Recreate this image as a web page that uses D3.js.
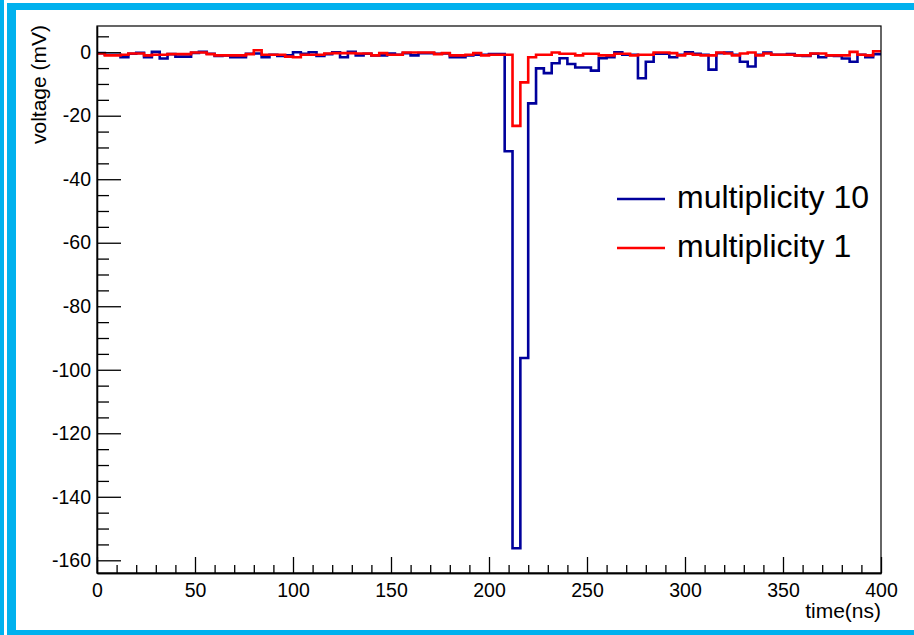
<!DOCTYPE html>
<html>
<head>
<meta charset="utf-8">
<script src="https://cdn.jsdelivr.net/npm/d3@7"></script>
<style>
  html, body { margin: 0; padding: 0; background: #fff; }
  svg { display: block; }
  text { font-family: "Liberation Sans", Arial, Helvetica, sans-serif; fill: #000; }
</style>
</head>
<body>
<script>
// Histogram binning: 100 bins of 4 ns from 0 to 400 ns
const binWidth = 4;
const nBins = 100;

// Bin contents (mV), multiplicity 10
const mult10 = [
  -0.3, -0.8, -0.8, -1.6, -0.5, -0.2, -1.6, 0.1, -2.0, -0.6,
  -1.4, -1.4, -0.2, 0.1, -0.5, -1.2, -1.0, -1.6, -1.6, -0.5,
  -0.4, -1.6, -0.8, -1.2, -1.0, 0.0, -0.5, 0.0, -1.2, -0.6,
  0.0, -1.6, 0.1, -1.0, -0.5, -1.0, -1.0, -0.4, -0.8, -0.3,
  -1.0, -0.3, -0.3, -0.5, -0.4, -1.6, -1.6, -1.0, -0.8, -0.8,
  -0.6, -0.6, -31.2, -156.2, -96.3, -16.1, -5.1, -6.6, -3.5, -1.9,
  -3.7, -4.8, -4.8, -5.8, -1.9, -1.6, 0.0, -0.8, -0.8, -8.2,
  -3.0, -0.5, -0.5, -1.6, -0.8, 0.0, -0.5, -0.8, -5.5, -0.3,
  -0.1, -0.8, -3.0, -4.5, -0.8, -0.1, -0.8, -0.8, -0.6, -1.0,
  -1.2, -0.5, -1.6, -1.0, -1.2, -2.0, -3.0, -0.8, -1.6, -0.6
];

// Bin contents (mV), multiplicity 1
const mult1 = [
  -0.4, -1.0, -1.0, -0.8, -0.4, -0.4, -1.0, -0.8, -0.8, -0.6,
  -0.6, -0.6, -0.1, -0.1, -0.6, -1.0, -1.0, -1.0, -1.0, -0.6,
  0.6, -0.8, -0.8, -0.8, -1.4, -1.6, -0.8, -0.8, -0.8, -0.4,
  -0.3, -0.3, -0.3, -0.4, -0.4, -1.0, -0.3, -0.8, -0.8, -0.1,
  -0.1, -0.1, -0.1, -0.6, -0.3, -1.0, -1.0, -0.8, -0.3, -1.0,
  -0.8, -0.8, -0.8, -23.2, -9.5, -1.6, -0.8, -0.8, -0.1, -0.5,
  -0.5, -1.0, -0.5, -0.5, -1.0, -1.0, -0.5, -0.5, -1.0, -0.8,
  -0.8, -0.1, -0.1, -0.3, -1.0, -0.5, -0.8, -1.0, -1.0, -0.1,
  -0.4, -1.0, -0.4, -0.1, -1.0, -0.4, -0.8, -0.8, -0.8, -1.0,
  -1.0, -0.4, -0.4, -1.0, -1.0, -1.0, 0.1, -0.8, -1.0, 0.3
];

// Axis ticks
const xMajorTicks = [0, 50, 100, 150, 200, 250, 300, 350, 400];
const xMinorTicks = d3.range(0, 401, 10).filter(v => v % 50 !== 0);
const yMajorTicks = [0, -20, -40, -60, -80, -100, -120, -140, -160];
const yMinorTicks = d3.range(-160, 6, 5).filter(v => v % 20 !== 0);

const seriesNames = ["multiplicity 10", "multiplicity 1"];
const seriesColors = ["#00009c", "#ff0000"];

const W = 914, H = 635;
const frame = { left: 97, right: 881, top: 26, bottom: 573 };

const svg = d3.select("body").append("svg")
  .attr("width", W).attr("height", H);

// Canvas border
const cyan = "#00b1ee";
svg.append("rect").attr("x", 0).attr("y", 0).attr("width", 4).attr("height", H).attr("fill", cyan);
svg.append("rect").attr("x", 7).attr("y", 3).attr("width", W - 7).attr("height", 7).attr("fill", cyan);
svg.append("rect").attr("x", 7).attr("y", 3).attr("width", 9).attr("height", H - 3).attr("fill", cyan);
svg.append("rect").attr("x", 7).attr("y", 630).attr("width", W - 7).attr("height", 5).attr("fill", cyan);

const x = d3.scaleLinear().domain([0, 400]).range([frame.left, frame.right]);
const y = d3.scaleLinear().domain([-164, 8.25]).range([frame.bottom, frame.top]);

// Histogram outlines drawn as steps
function stepPoints(values) {
  const pts = values.map((v, i) => [i * binWidth, v]);
  pts.push([nBins * binWidth, values[values.length - 1]]);
  return pts;
}
const line = d3.line()
  .x(d => x(d[0]))
  .y(d => y(d[1]))
  .curve(d3.curveStepAfter);

const plot = svg.append("g");
[mult10, mult1].forEach((vals, k) => {
  plot.append("path")
    .datum(stepPoints(vals))
    .attr("d", line)
    .attr("fill", "none")
    .attr("stroke", seriesColors[k])
    .attr("stroke-width", 2.6)
    .attr("stroke-linejoin", "miter");
});

// Frame
svg.append("rect")
  .attr("x", frame.left).attr("y", frame.top)
  .attr("width", frame.right - frame.left)
  .attr("height", frame.bottom - frame.top)
  .attr("fill", "none").attr("stroke", "#000").attr("stroke-width", 1.2);

// Plain hyphen-minus labels
const plainFormat = d => String(d);

// X axis
const xAxis = svg.append("g").attr("transform", `translate(0,${frame.bottom})`);
xAxis.call(d3.axisBottom(x).tickValues(xMajorTicks).tickFormat(plainFormat)
  .tickSize(-16).tickPadding(10).tickSizeOuter(0));
xAxis.append("g").call(d3.axisBottom(x).tickValues(xMinorTicks).tickSize(-8).tickFormat("").tickSizeOuter(0));

// Y axis
const yAxis = svg.append("g").attr("transform", `translate(${frame.left},0)`);
yAxis.call(d3.axisLeft(y).tickValues(yMajorTicks).tickFormat(plainFormat)
  .tickSize(-24).tickPadding(6).tickSizeOuter(0));
yAxis.append("g").call(d3.axisLeft(y).tickValues(yMinorTicks).tickSize(-12).tickFormat("").tickSizeOuter(0));

svg.selectAll(".domain").attr("stroke", "#000").attr("stroke-width", 1.3);
svg.selectAll(".tick line").attr("stroke", "#000").attr("stroke-width", 1.3);
svg.selectAll(".tick text")
  .style("font-family", "'Liberation Sans', Arial, sans-serif")
  .style("font-size", "19.5px")
  .attr("fill", "#000");

// Axis titles
svg.append("text")
  .attr("x", frame.right).attr("y", 618)
  .attr("text-anchor", "end")
  .style("font-size", "21px")
  .text("time(ns)");

svg.append("text")
  .attr("transform", `translate(45.5,${frame.top - 1}) rotate(-90)`)
  .attr("text-anchor", "end")
  .style("font-size", "21px")
  .text("voltage (mV)");

// Legend
const legend = svg.append("g");
const legendY = [199, 248];
seriesNames.forEach((name, k) => {
  legend.append("line")
    .attr("x1", 617).attr("x2", 665)
    .attr("y1", legendY[k]).attr("y2", legendY[k])
    .attr("stroke", seriesColors[k]).attr("stroke-width", 2.6);
  legend.append("text")
    .attr("x", 677).attr("y", legendY[k] + 8.5)
    .style("font-size", "32px")
    .text(name);
});
</script>
</body>
</html>
